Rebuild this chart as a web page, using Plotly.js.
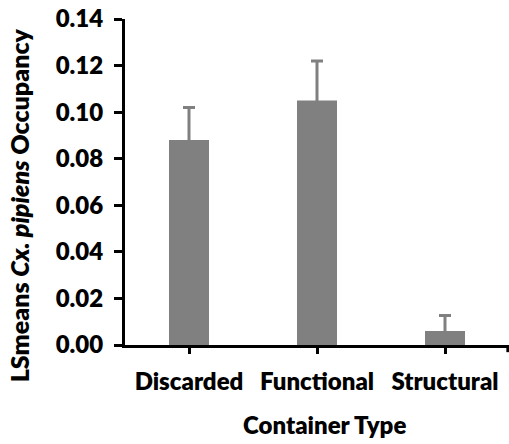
<!DOCTYPE html>
<html>
<head>
<meta charset="utf-8">
<script src="https://cdn.plot.ly/plotly-3.0.1.min.js"></script>
<style>
  html, body { margin: 0; padding: 0; background: #ffffff; }
  #chart { width: 509px; height: 444px; }
</style>
</head>
<body>
<div id="chart"></div>
<script>
// Container types and their LSmeans occupancy (with standard error)
const containerTypes = ["Discarded", "Functional", "Structural"];
const occupancyMeans = [0.088, 0.105, 0.006];
const occupancyErrors = [0.014, 0.017, 0.0067];
const yTickValues = [0, 0.02, 0.04, 0.06, 0.08, 0.10, 0.12, 0.14];

const FONT = 'Lato, "Noto Sans", "DejaVu Sans", sans-serif';
const BAR_GREY = '#808080';
const WEIGHT = 800;

const trace = {
  type: 'bar',
  x: containerTypes,
  y: occupancyMeans,
  marker: { color: BAR_GREY, line: { width: 0 } },
  // the lower half of each whisker sits inside its bar in the same grey
  error_y: {
    type: 'data',
    symmetric: true,
    array: occupancyErrors,
    color: BAR_GREY,
    thickness: 3,
    width: 6
  },
  hoverinfo: 'none'
};

const layout = {
  width: 509,
  height: 444,
  margin: { l: 125, r: 0, t: 19, b: 99 },
  paper_bgcolor: '#ffffff',
  plot_bgcolor: '#ffffff',
  showlegend: false,
  bargap: 0.6875,
  font: { family: FONT, size: 24, color: '#000000', weight: WEIGHT },
  xaxis: {
    type: 'category',
    range: [-0.5, 2.5],
    showline: true,
    linecolor: '#000000',
    linewidth: 3,
    layer: 'above traces',
    ticks: 'outside',
    ticklen: 6,
    tickwidth: 3,
    tickcolor: '#000000',
    ticklabelstandoff: 7,
    tickfont: { family: FONT, size: 24, color: '#000000', weight: WEIGHT },
    showgrid: false,
    zeroline: false,
    fixedrange: true
  },
  yaxis: {
    range: [0, 0.14],
    tickmode: 'array',
    tickvals: yTickValues,
    tickformat: '.2f',
    showline: true,
    linecolor: '#000000',
    linewidth: 3,
    layer: 'above traces',
    ticks: 'outside',
    ticklen: 8,
    tickwidth: 3,
    tickcolor: '#000000',
    ticklabelstandoff: 6,
    tickfont: { family: FONT, size: 24, color: '#000000', weight: WEIGHT },
    showgrid: false,
    zeroline: false,
    fixedrange: true
  },
  shapes: [
    // closing tick at the right end of the category axis
    {
      type: 'line', xref: 'paper', yref: 'paper',
      x0: 0.997, x1: 0.997, y0: 0, y1: -0.022,
      line: { color: '#000000', width: 3 }
    }
  ],
  annotations: [
    {
      text: 'LSmeans <i>Cx. pipiens</i> Occupancy',
      xref: 'paper', yref: 'paper',
      x: -0.274, y: 0.428,
      xanchor: 'center', yanchor: 'middle',
      textangle: -90,
      showarrow: false,
      font: { family: FONT, size: 25, color: '#000000', weight: WEIGHT }
    },
    {
      text: 'Container Type',
      xref: 'paper', yref: 'paper',
      x: 0.52, y: -0.245,
      xanchor: 'center', yanchor: 'middle',
      showarrow: false,
      font: { family: FONT, size: 24, color: '#000000', weight: WEIGHT }
    }
  ]
};

Plotly.newPlot('chart', [trace], layout, { displayModeBar: false, staticPlot: true });
</script>
</body>
</html>
